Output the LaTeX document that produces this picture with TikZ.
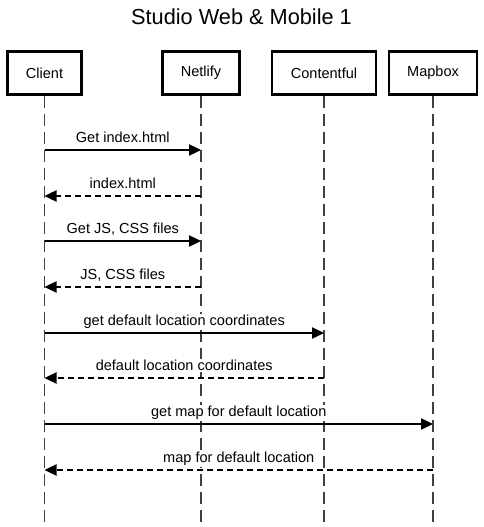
\documentclass[tikz,border=0pt]{standalone}
\usepackage{fontspec}
\setmainfont{Liberation Sans}
\usetikzlibrary{arrows.meta}
\begin{document}
\begin{tikzpicture}[x=0.75pt,y=-0.75pt,
  every node/.style={font=\fontsize{10.9}{12}\selectfont},
  actor/.style={draw, line width=1.7pt, minimum height=32.25pt, inner sep=0pt, fill=white},
  lifeline/.style={draw=black!75, line width=1.3pt, dash pattern=on 9.5pt off 4pt},
  msg/.style={draw=black, line width=0.9pt, -{Triangle[length=9pt,width=8.5pt]}},
  reply/.style={msg, dash pattern=on 4.5pt off 3pt},
  lbl/.style={anchor=base, yshift=5.5pt, inner sep=1pt, fill=white}]
\useasboundingbox (0,0) rectangle (483,527);
\node (title) at (241.5,17) {\fontsize{16.3}{19}\selectfont Studio Web \& Mobile 1};
\node[actor, minimum width=55.5pt] (client) at (44.5,73) {Client};
\node[actor, minimum width=57.75pt] (netlify) at (201,73) {Netlify};
\node[actor, minimum width=78pt] (contentful) at (324,73) {Contentful};
\node[actor, minimum width=66pt] (mapbox) at (433,73) {Mapbox};
\coordinate (bottom) at (0,522);
\foreach \a in {client,netlify,contentful,mapbox}
  \draw[lifeline] (\a.south) -- (\a |- bottom);
\coordinate (y1) at (0,150);
\coordinate (y2) at (0,196);
\coordinate (y3) at (0,241);
\coordinate (y4) at (0,287);
\coordinate (y5) at (0,333);
\coordinate (y6) at (0,378);
\coordinate (y7) at (0,424);
\coordinate (y8) at (0,470);
\draw[msg] (client |- y1) -- node[lbl] {Get index.html} (netlify |- y1);
\draw[reply] (netlify |- y2) -- node[lbl] {index.html} (client |- y2);
\draw[msg] (client |- y3) -- node[lbl] {Get JS, CSS files} (netlify |- y3);
\draw[reply] (netlify |- y4) -- node[lbl] {JS, CSS files} (client |- y4);
\draw[msg] (client |- y5) -- node[lbl] {get default location coordinates} (contentful |- y5);
\draw[reply] (contentful |- y6) -- node[lbl] {default location coordinates} (client |- y6);
\draw[msg] (client |- y7) -- node[lbl] {get map for default location} (mapbox |- y7);
\draw[reply] (mapbox |- y8) -- node[lbl] {map for default location} (client |- y8);
\end{tikzpicture}
\end{document}
